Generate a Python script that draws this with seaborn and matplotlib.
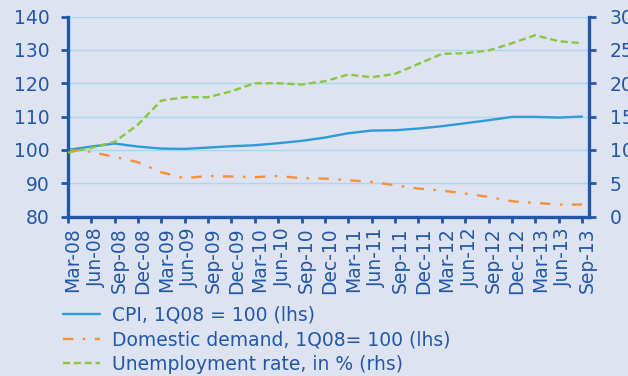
import numpy as np
import pandas as pd
import matplotlib
matplotlib.use("Agg")
import matplotlib.pyplot as plt
import matplotlib.transforms as mtransforms
from matplotlib.lines import Line2D
import seaborn as sns

# Quarterly observations
quarters = ["Mar-08", "Jun-08", "Sep-08", "Dec-08", "Mar-09", "Jun-09", "Sep-09",
            "Dec-09", "Mar-10", "Jun-10", "Sep-10", "Dec-10", "Mar-11", "Jun-11",
            "Sep-11", "Dec-11", "Mar-12", "Jun-12", "Sep-12", "Dec-12", "Mar-13",
            "Jun-13", "Sep-13"]
cpi = [100.0, 101.0, 101.9, 101.0, 100.4, 100.3, 100.7, 101.1, 101.4, 102.0, 102.7,
       103.7, 105.0, 105.8, 105.9, 106.4, 107.1, 108.0, 108.9, 109.9, 109.9, 109.7, 110.0]
domestic_demand = [100.0, 99.4, 97.9, 96.3, 93.3, 91.5, 92.2, 92.0, 91.8, 92.2, 91.5,
                   91.4, 90.9, 90.4, 89.4, 88.4, 87.8, 86.9, 85.9, 84.6, 84.1, 83.6, 83.6]
unemployment = [9.6, 10.3, 11.2, 13.8, 17.4, 17.9, 17.9, 18.8, 20.0, 20.0, 19.8,
                20.3, 21.3, 20.9, 21.4, 22.9, 24.4, 24.5, 24.9, 26.0, 27.2, 26.3, 26.0]

lhs_ticks = [80, 90, 100, 110, 120, 130, 140]
rhs_ticks = [0, 5, 10, 15, 20, 25, 30]

labels = ["CPI, 1Q08 = 100 (lhs)",
          "Domestic demand, 1Q08= 100 (lhs)",
          "Unemployment rate, in % (rhs)"]

BG = "#dde3f0"
AXIS = "#2257a7"
GRID = "#a9d6f0"
C_CPI = "#2e9ad6"
C_DD = "#f5903a"
C_UN = "#8cc540"

df = pd.DataFrame({"pos": np.arange(len(quarters)), "cpi": cpi,
                   "dd": domestic_demand, "un": unemployment})

sns.set_theme(style="white")
plt.rcParams["font.family"] = ["DejaVu Sans"]
FS = 13.5

fig = plt.figure(figsize=(6.28, 3.76), dpi=100, facecolor=BG)
ax = fig.add_axes([0.108, 0.424, 0.830, 0.532])
ax.set_facecolor(BG)
ax2 = ax.twinx()

lw = 1.7
sns.lineplot(data=df, x="pos", y="cpi", ax=ax, color=C_CPI, linewidth=lw)
sns.lineplot(data=df, x="pos", y="dd", ax=ax, color=C_DD, linewidth=lw,
             dashes=False)
ax.lines[-1].set_dashes([4.4, 4.0, 1.1, 4.0])
sns.lineplot(data=df, x="pos", y="un", ax=ax2, color=C_UN, linewidth=lw)
ax2.lines[-1].set_dashes([3.0, 1.6])

ax.set_xlim(0, 22.3)
ax.set_ylim(80, 140)
ax2.set_ylim(0, 30)
ax.set_yticks(lhs_ticks)
ax2.set_yticks(rhs_ticks)
ax.set_xticks(df["pos"])
ax.set_xticklabels(quarters, rotation=90)
ax.set_xlabel("")
ax.set_ylabel("")
ax2.set_ylabel("")

ax.grid(axis="y", color=GRID, linewidth=1.0)
ax.grid(axis="x", visible=False)
ax2.grid(False)
ax.set_axisbelow(True)

for a in (ax, ax2):
    for side in ("top", "left", "right", "bottom"):
        a.spines[side].set_visible(False)
ax.spines["left"].set_visible(True)
ax.spines["bottom"].set_visible(True)
ax2.spines["right"].set_visible(True)
for sp in (ax.spines["left"], ax.spines["bottom"], ax2.spines["right"]):
    sp.set_color(AXIS)
    sp.set_linewidth(2.4)

ax.tick_params(axis="y", direction="out", length=5, width=2, color=AXIS,
               labelcolor=AXIS, labelsize=FS, pad=8, left=True)
ax.tick_params(axis="x", direction="out", length=4.5, width=2, color=AXIS,
               labelcolor=AXIS, labelsize=FS, pad=3, bottom=True)
ax2.tick_params(axis="y", direction="out", length=5, width=2, color=AXIS,
                labelcolor=AXIS, labelsize=FS, pad=10, right=True)

shift = mtransforms.ScaledTranslation(0.05, 0, fig.dpi_scale_trans)
for lab in ax.get_xticklabels():
    lab.set_transform(lab.get_transform() + shift)

handles = [Line2D([], [], color=C_CPI, linewidth=lw),
           Line2D([], [], color=C_DD, linewidth=lw, dashes=[4.4, 4.0, 1.1, 4.0]),
           Line2D([], [], color=C_UN, linewidth=lw, dashes=[3.0, 1.6])]
leg = fig.legend(handles, labels, loc="upper left",
                 bbox_to_anchor=(0.1, 0.187), frameon=False, fontsize=FS,
                 handlelength=2.0, handletextpad=0.6, labelspacing=0.3,
                 borderpad=0, borderaxespad=0)
for t in leg.get_texts():
    t.set_color(AXIS)

fig.savefig("out.png", dpi=100, facecolor=BG)
